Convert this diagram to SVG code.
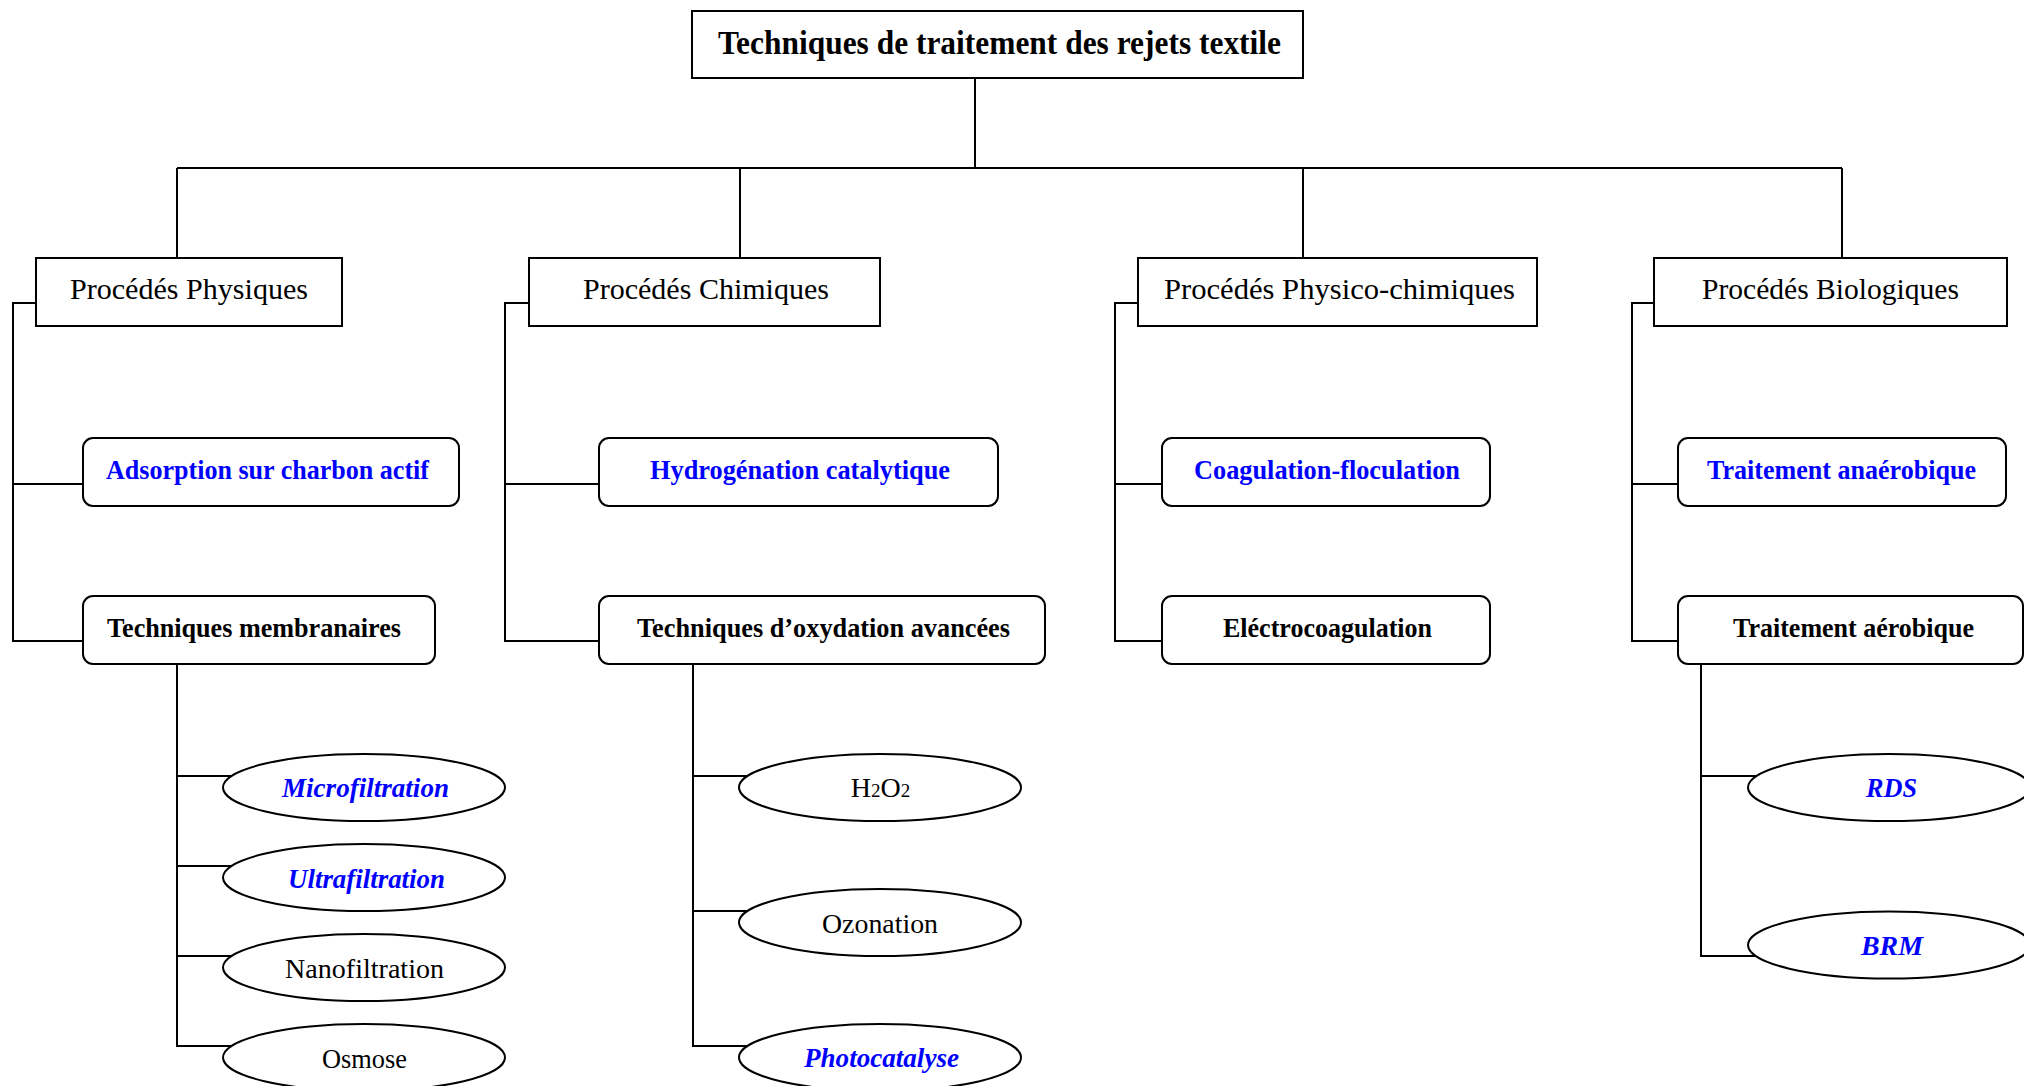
<svg xmlns="http://www.w3.org/2000/svg" width="2024" height="1086" viewBox="0 0 2024 1086">
<style>
  .box { fill: #fff; stroke: #000; stroke-width: 2; }
  .conn { fill: none; stroke: #000; stroke-width: 2; }
  text { font-family: "Liberation Serif", "Times New Roman", serif; text-anchor: middle; }
  .title { font-size: 33px; font-weight: bold; fill: #000; }
  .lvl1 { font-size: 30px; fill: #000; }
  .b { font-size: 28px; font-weight: bold; fill: #000; }
  .bb { font-size: 28px; font-weight: bold; fill: #0000ff; }
  .el { font-size: 28px; fill: #000; }
  .eli { font-size: 28px; font-weight: bold; font-style: italic; fill: #0000ff; }
</style>
<rect width="2024" height="1086" fill="#fff"/>
<g id="connectors" class="conn">
  <path d="M975 78 V168"/>
  <path d="M177 168 H1842"/>
  <path d="M177 168 V258"/>
  <path d="M740 168 V258"/>
  <path d="M1303 168 V258"/>
  <path d="M1842 168 V258"/>
  <path d="M36 303 H13 V641 H83"/>
  <path d="M13 484 H83"/>
  <path d="M529 303 H505 V641 H599"/>
  <path d="M505 484 H599"/>
  <path d="M1138 303 H1115 V641 H1162"/>
  <path d="M1115 484 H1162"/>
  <path d="M1654 303 H1632 V641 H1678"/>
  <path d="M1632 484 H1678"/>
  <path d="M177 664 V1046 H245"/>
  <path d="M177 776 H245"/>
  <path d="M177 866 H245"/>
  <path d="M177 956 H245"/>
  <path d="M693 664 V1046 H760"/>
  <path d="M693 776 H760"/>
  <path d="M693 911 H760"/>
  <path d="M1701 664 V956 H1768"/>
  <path d="M1701 776 H1768"/>
</g>
<g id="root">
  <rect class="box" x="692" y="11" width="611" height="67"/>
  <text class="title" x="999.5" y="54" textLength="563" lengthAdjust="spacingAndGlyphs">Techniques de traitement des rejets textile</text>
</g>
<g id="physiques">
  <rect class="box" x="36" y="258" width="306" height="68"/>
  <text class="lvl1" x="189" y="299" textLength="238" lengthAdjust="spacingAndGlyphs">Procédés Physiques</text>
</g>
<g id="chimiques">
  <rect class="box" x="529" y="258" width="351" height="68"/>
  <text class="lvl1" x="706" y="299" textLength="246" lengthAdjust="spacingAndGlyphs">Procédés Chimiques</text>
</g>
<g id="physico-chimiques">
  <rect class="box" x="1138" y="258" width="399" height="68"/>
  <text class="lvl1" x="1339.5" y="299" textLength="351" lengthAdjust="spacingAndGlyphs">Procédés Physico-chimiques</text>
</g>
<g id="biologiques">
  <rect class="box" x="1654" y="258" width="353" height="68"/>
  <text class="lvl1" x="1830.5" y="299" textLength="257" lengthAdjust="spacingAndGlyphs">Procédés Biologiques</text>
</g>
<g id="adsorption">
  <rect class="box" x="83" y="438" width="376" height="68" rx="10"/>
  <text class="bb" x="267.5" y="479" textLength="323" lengthAdjust="spacingAndGlyphs">Adsorption sur charbon actif</text>
</g>
<g id="membranaires">
  <rect class="box" x="83" y="596" width="352" height="68" rx="10"/>
  <text class="b" x="254" y="637" textLength="294" lengthAdjust="spacingAndGlyphs">Techniques membranaires</text>
</g>
<g id="hydrogenation">
  <rect class="box" x="599" y="438" width="399" height="68" rx="10"/>
  <text class="bb" x="800" y="479" textLength="300" lengthAdjust="spacingAndGlyphs">Hydrogénation catalytique</text>
</g>
<g id="oxydation">
  <rect class="box" x="599" y="596" width="446" height="68" rx="10"/>
  <text class="b" x="823.5" y="637" textLength="373" lengthAdjust="spacingAndGlyphs">Techniques d’oxydation avancées</text>
</g>
<g id="coagulation">
  <rect class="box" x="1162" y="438" width="328" height="68" rx="10"/>
  <text class="bb" x="1327" y="479" textLength="266" lengthAdjust="spacingAndGlyphs">Coagulation-floculation</text>
</g>
<g id="electrocoagulation">
  <rect class="box" x="1162" y="596" width="328" height="68" rx="10"/>
  <text class="b" x="1327.5" y="637" textLength="209" lengthAdjust="spacingAndGlyphs">Eléctrocoagulation</text>
</g>
<g id="anaerobique">
  <rect class="box" x="1678" y="438" width="328" height="68" rx="10"/>
  <text class="bb" x="1841.5" y="479" textLength="269" lengthAdjust="spacingAndGlyphs">Traitement anaérobique</text>
</g>
<g id="aerobique">
  <rect class="box" x="1678" y="596" width="345" height="68" rx="10"/>
  <text class="b" x="1853.5" y="637" textLength="241" lengthAdjust="spacingAndGlyphs">Traitement aérobique</text>
</g>
<g id="microfiltration">
  <ellipse class="box" cx="364" cy="787.5" rx="141" ry="33.5"/>
  <text class="eli" x="365.5" y="797" textLength="167" lengthAdjust="spacingAndGlyphs">Microfiltration</text>
</g>
<g id="ultrafiltration">
  <ellipse class="box" cx="364" cy="877.5" rx="141" ry="33.5"/>
  <text class="eli" x="366.5" y="888" textLength="157" lengthAdjust="spacingAndGlyphs">Ultrafiltration</text>
</g>
<g id="nanofiltration">
  <ellipse class="box" cx="364" cy="967.5" rx="141" ry="33.5"/>
  <text class="el" x="364.5" y="978" textLength="159" lengthAdjust="spacingAndGlyphs">Nanofiltration</text>
</g>
<g id="osmose">
  <ellipse class="box" cx="364" cy="1057.5" rx="141" ry="33.5"/>
  <text class="el" x="364.5" y="1068" textLength="85" lengthAdjust="spacingAndGlyphs">Osmose</text>
</g>
<g id="h2o2">
  <ellipse class="box" cx="880" cy="787.5" rx="141" ry="33.5"/>
  <text class="el" x="880.5" y="797">H<tspan font-size="19">2</tspan>O<tspan font-size="19">2</tspan></text>
</g>
<g id="ozonation">
  <ellipse class="box" cx="880" cy="922.5" rx="141" ry="33.5"/>
  <text class="el" x="880" y="933" textLength="116" lengthAdjust="spacingAndGlyphs">Ozonation</text>
</g>
<g id="photocatalyse">
  <ellipse class="box" cx="880" cy="1057.5" rx="141" ry="33.5"/>
  <text class="eli" x="881.5" y="1067" textLength="155" lengthAdjust="spacingAndGlyphs">Photocatalyse</text>
</g>
<g id="rds">
  <ellipse class="box" cx="1889" cy="787.5" rx="141" ry="33.5"/>
  <text class="eli" x="1891.5" y="797" textLength="51" lengthAdjust="spacingAndGlyphs">RDS</text>
</g>
<g id="brm">
  <ellipse class="box" cx="1889" cy="945" rx="141" ry="33.5"/>
  <text class="eli" x="1892" y="955" textLength="62" lengthAdjust="spacingAndGlyphs">BRM</text>
</g>
</svg>
